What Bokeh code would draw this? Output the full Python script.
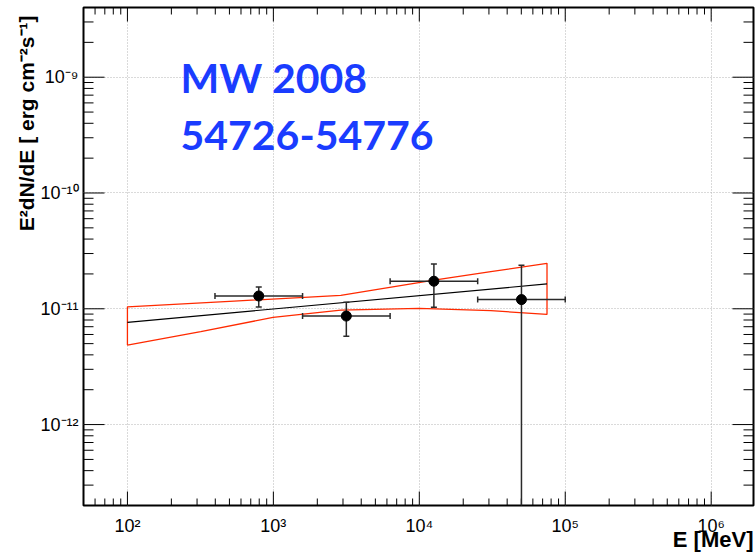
import math
from bokeh.plotting import figure
from bokeh.models import Range1d, FixedTicker, CustomJSTickFormatter, Label, Title
from bokeh.embed import file_html
from bokeh.resources import INLINE

# ---------------- data ----------------
e_center = [794, 3162, 12589, 50119]
e_low = [398, 1585, 6310, 25119]
e_high = [1585, 6310, 25119, 100000]
flux = [1.29e-11, 8.65e-12, 1.73e-11, 1.20e-11]
flux_low = [1.035e-11, 5.8e-12, 1.03e-11, 1e-14]
flux_high = [1.54e-11, 1.14e-11, 2.44e-11, 2.38e-11]

fit_e = [100, 75000]
fit_flux = [7.64e-12, 1.64e-11]

bowtie_up_e = [100, 538, 2898, 12620, 30900, 75000]
bowtie_up_flux = [1.04e-11, 1.165e-11, 1.306e-11, 1.77e-11, 2.09e-11, 2.47e-11]
bowtie_lo_e = [100, 318, 995, 2898, 9980, 30900, 75000]
bowtie_lo_flux = [4.86e-12, 6.34e-12, 8.43e-12, 9.75e-12, 1.008e-11, 9.64e-12, 8.94e-12]

x_major = [1e2, 1e3, 1e4, 1e5, 1e6]
y_major = [1e-12, 1e-11, 1e-10, 1e-9]
x_lim = (50, 1.95e6)
y_lim = (2e-13, 4e-9)

title_lines = ["MW 2008", "54726-54776"]
x_title = "E [MeV]"
y_title = "E\u00b2dN/dE [ erg cm\u207b\u00b2s\u207b\u00b9]"

x_minor = [m * 10 ** k for k in range(1, 7) for m in range(2, 10)
           if x_lim[0] <= m * 10 ** k <= x_lim[1]]
y_minor = [m * 10.0 ** k for k in range(-13, -8) for m in range(2, 10)
           if y_lim[0] <= m * 10.0 ** k <= y_lim[1]]

# ---------------- figure ----------------
p = figure(width=755, height=556, x_axis_type="log", y_axis_type="log",
           x_range=Range1d(*x_lim), y_range=Range1d(*y_lim),
           output_backend="svg", toolbar_location=None,
           min_border_left=83, min_border_right=2, min_border_top=7,
           min_border_bottom=51)
p.background_fill_color = "white"
p.border_fill_color = "white"
p.outline_line_color = "black"
p.outline_line_width = 2

fmt_code = """
const e = Math.round(Math.log10(tick));
const s = {'-':'\u207b','0':'\u2070','1':'\u00b9','2':'\u00b2','3':'\u00b3',
           '4':'\u2074','5':'\u2075','6':'\u2076','7':'\u2077','8':'\u2078','9':'\u2079'};
return '10' + String(e).split('').map(c => s[c]).join('');
"""

for ax, major in ((p.xaxis[0], x_major), (p.yaxis[0], y_major)):
    ax.ticker = FixedTicker(ticks=major, minor_ticks=[])
    ax.major_tick_in = 0
    ax.major_tick_out = 0
    ax.minor_tick_in = 0
    ax.minor_tick_out = 0
    ax.axis_line_color = None
    ax.major_tick_line_color = None
    ax.minor_tick_line_color = None
    ax.formatter = CustomJSTickFormatter(code=fmt_code)
    ax.major_label_text_font = "Liberation Sans"
    ax.major_label_text_font_size = "18px"
    ax.major_label_text_color = "black"

p.xaxis[0].major_label_standoff = 10
p.yaxis[0].major_label_standoff = 5
p.yaxis[0].major_label_text_align = "right"

# axis titles as side-panel titles (right / top aligned like ROOT)
p.add_layout(Title(text=x_title, align="right", standoff=-24, vertical_align="top",
                   text_font="Liberation Sans", text_font_style="bold",
                   text_font_size="22px", text_color="black"), "below")
p.add_layout(Title(text=y_title, align="right", standoff=0, offset=8,
                   text_font="Liberation Sans", text_font_style="bold",
                   text_font_size="21px", text_color="black"), "left")

for g, t in ((p.xgrid[0], x_major), (p.ygrid[0], y_major)):
    g.ticker = FixedTicker(ticks=t)
    g.grid_line_color = "#b4b4b4"
    g.grid_line_dash = "1 2"
    g.grid_line_width = 1

# ---------------- inward ticks on all four sides (clipped to frame) ----------------
tick_col = "black"
for yy in (y_lim[0], y_lim[1]):
    p.scatter(x_major, [yy] * len(x_major), marker="dash", angle=math.pi / 2,
              size=28, line_color=tick_col, line_width=1)
    p.scatter(x_minor, [yy] * len(x_minor), marker="dash", angle=math.pi / 2,
              size=14, line_color=tick_col, line_width=1)
for xx in (x_lim[0], x_lim[1]):
    p.scatter([xx] * len(y_major), y_major, marker="dash",
              size=42, line_color=tick_col, line_width=1)
    p.scatter([xx] * len(y_minor), y_minor, marker="dash",
              size=20, line_color=tick_col, line_width=1)

# ---------------- glyphs ----------------
red = "#ff2a00"
p.patch(x=bowtie_up_e + bowtie_lo_e[::-1], y=bowtie_up_flux + bowtie_lo_flux[::-1],
        fill_color=None, line_color=red, line_width=1.3)
p.line(fit_e, fit_flux, line_color="black", line_width=1.2)

bar_col = "#2a2a2a"
p.segment(x0=e_low, y0=flux, x1=e_high, y1=flux, line_color=bar_col, line_width=1.5)
p.segment(x0=e_center, y0=flux_low, x1=e_center, y1=flux_high, line_color=bar_col, line_width=1.5)
p.scatter(e_center, flux_high, marker="dash", size=6, line_color=bar_col, line_width=1.5)
p.scatter(e_center[:3], flux_low[:3], marker="dash", size=6, line_color=bar_col, line_width=1.5)
p.scatter(e_low, flux, marker="dash", angle=math.pi / 2, size=6, line_color=bar_col, line_width=1.5)
p.scatter(e_high, flux, marker="dash", angle=math.pi / 2, size=6, line_color=bar_col, line_width=1.5)
p.scatter(e_center, flux, marker="circle", size=10, color="black")

# ---------------- texts ----------------
blue = "#1a3cff"
for txt, yy in zip(title_lines, (428, 370)):
    p.add_layout(Label(x=97, y=yy, x_units="screen", y_units="screen", text=txt,
                       text_font="Lato", text_font_style="bold", text_font_size="41px",
                       text_color=blue, text_baseline="alphabetic", text_align="left"))

open("out.html", "w").write(file_html(p, INLINE))
